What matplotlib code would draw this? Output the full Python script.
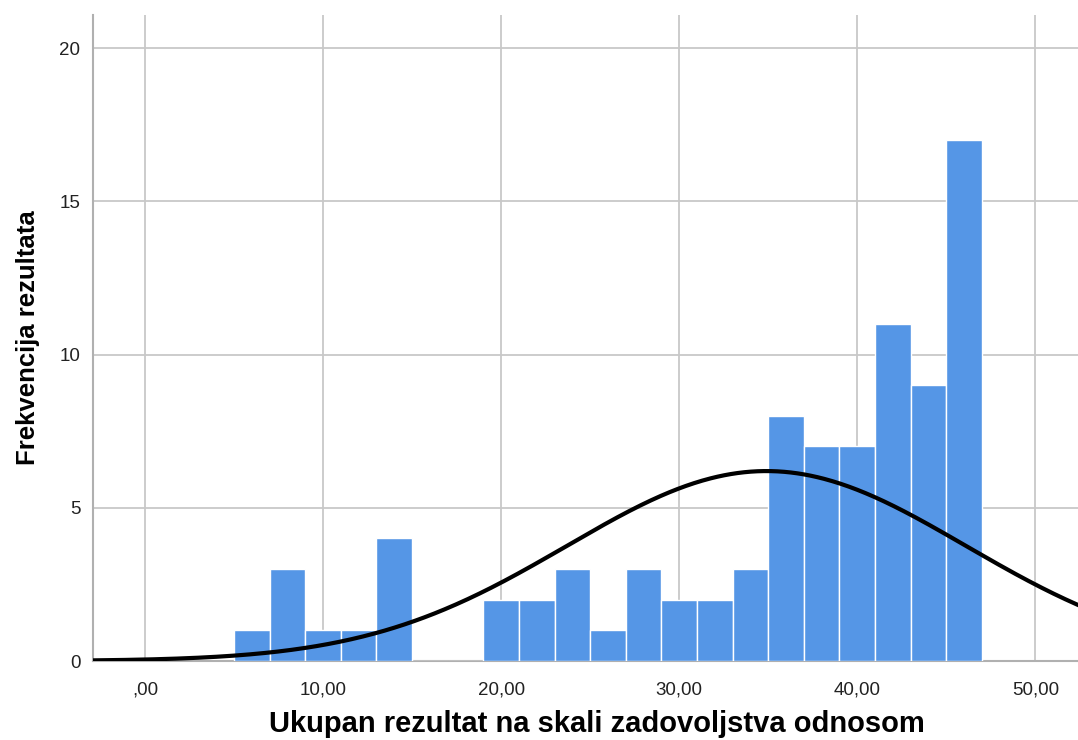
import numpy as np
import matplotlib
matplotlib.use("Agg")
import matplotlib.pyplot as plt

bin_edges = [5, 7, 9, 11, 13, 15, 17, 19, 21, 23, 25, 27, 29, 31, 33, 35, 37, 39, 41, 43, 45, 47]
counts = [1, 3, 1, 1, 4, 0, 0, 2, 2, 3, 1, 3, 2, 2, 3, 8, 7, 7, 11, 9, 17]
mean_val = 34.9
sd_val = 11.2
xticks = [0, 10, 20, 30, 40, 50]
xtick_labels = [",00", "10,00", "20,00", "30,00", "40,00", "50,00"]
yticks = [0, 5, 10, 15, 20]
xlabel = "Ukupan rezultat na skali zadovoljstva odnosom"
ylabel = "Frekvencija rezultata"

plt.rcParams['font.family'] = ['Liberation Sans', 'DejaVu Sans']

fig = plt.figure(figsize=(10.78, 7.40), dpi=100)
ax = fig.add_axes([93/1078, 1-661/740, 1-93/1078, (661-15)/740])

edges = np.array(bin_edges, dtype=float)
ax.bar(edges[:-1], counts, width=np.diff(edges), align='edge',
       color='#5596e6', edgecolor='white', linewidth=1.0, zorder=3)

n = sum(counts)
bw = edges[1] - edges[0]
xs = np.linspace(-3, 53, 600)
ys = n * bw / (sd_val * np.sqrt(2 * np.pi)) * np.exp(-0.5 * ((xs - mean_val) / sd_val) ** 2)
ax.plot(xs, ys, color='black', linewidth=3.0, zorder=4, solid_capstyle='butt')

ax.set_xlim(-2.92, 52.4)
ax.set_ylim(0, 21.08)
ax.set_xticks(xticks)
ax.set_xticklabels(xtick_labels)
ax.set_yticks(yticks)
ax.tick_params(axis='both', length=0, labelsize=13.5, colors='#222222')
ax.tick_params(axis='x', pad=15)
ax.tick_params(axis='y', pad=9)
ax.grid(True, color='#c8c8c8', linewidth=1.3, zorder=0)
ax.set_axisbelow(True)
for s in ['top', 'right']:
    ax.spines[s].set_visible(False)
for s in ['left', 'bottom']:
    ax.spines[s].set_color('#b0b0b0')
    ax.spines[s].set_linewidth(1.5)

fig.text(597/1078, 1 - 732/740, xlabel, fontsize=21, fontweight='bold',
         ha='center', va='baseline')
ax.set_ylabel(ylabel, fontsize=18.5, fontweight='bold', labelpad=14)

fig.savefig("out.png", dpi=100)
